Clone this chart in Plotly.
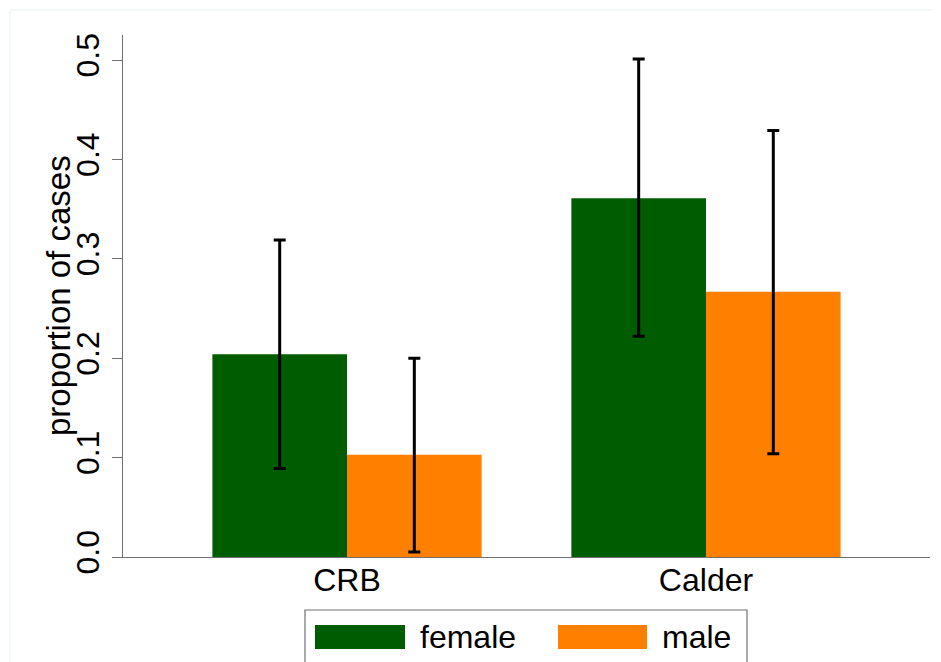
import plotly.graph_objects as go

# ---- data ----
categories = ["CRB", "Calder"]
series_names = ["female", "male"]
female_vals = [0.204, 0.361]
female_upper = [0.319, 0.501]
female_lower = [0.089, 0.222]
male_vals = [0.103, 0.267]
male_upper = [0.200, 0.429]
male_lower = [0.005, 0.104]
y_ticks = [0.0, 0.1, 0.2, 0.3, 0.4, 0.5]
y_title = "proportion of cases"

colors = ["#005c00", "#ff8000"]
FONT = "Arial, Liberation Sans, sans-serif"

def err(vals, up, lo):
    return dict(type="data", symmetric=False,
                array=[u - v for u, v in zip(up, vals)],
                arrayminus=[v - l for v, l in zip(vals, lo)],
                color="black", thickness=3, width=6)

fig = go.Figure()
fig.add_trace(go.Bar(x=categories, y=female_vals, name=series_names[0],
                     marker=dict(color=colors[0], line=dict(width=0)),
                     error_y=err(female_vals, female_upper, female_lower)))
fig.add_trace(go.Bar(x=categories, y=male_vals, name=series_names[1],
                     marker=dict(color=colors[1], line=dict(width=0)),
                     error_y=err(male_vals, male_upper, male_lower)))

# page offset (default body margin) is 8px
OFF = 8
W, H = 941 - OFF, 662 - OFF
L, R, T, B = 123 - OFF, 11, 35 - OFF, 105
pw, ph = W - L - R, H - T - B

def px(x):
    return (x - OFF - L) / pw

def py(y):
    return (H - B - (y - OFF)) / ph

shapes = []
annotations = []
# faint outer frame
shapes.append(dict(type="rect", xref="paper", yref="paper",
                   x0=px(10), x1=px(950), y0=py(680), y1=py(10),
                   line=dict(color="#e6f0f0", width=1), layer="below"))
# legend box
shapes.append(dict(type="rect", xref="paper", yref="paper",
                   x0=px(305), x1=px(747), y0=py(680), y1=py(610),
                   line=dict(color="#707070", width=1.2)))
sw_x = [(315, 405), (558, 647)]
txt_x = [418, 660]
for i, name in enumerate(series_names):
    shapes.append(dict(type="rect", xref="paper", yref="paper",
                       x0=px(sw_x[i][0]), x1=px(sw_x[i][1]),
                       y0=py(649), y1=py(625),
                       fillcolor=colors[i], line=dict(width=0)))
    annotations.append(dict(text=name, xref="paper", yref="paper",
                            x=px(txt_x[i]), y=py(637), xanchor="left",
                            yanchor="middle", showarrow=False,
                            font=dict(family=FONT, size=32, color="black")))
# y-axis title
annotations.append(dict(text=y_title, xref="paper", yref="paper",
                        x=px(58), y=py(296), xanchor="center", yanchor="middle",
                        textangle=-90, showarrow=False,
                        font=dict(family=FONT, size=33, color="black")))

fig.update_layout(
    width=W, height=H,
    margin=dict(l=L, r=R, t=T, b=B, pad=0),
    paper_bgcolor="white", plot_bgcolor="white",
    barmode="group", bargap=0.25, bargroupgap=0,
    showlegend=False,
    font=dict(family=FONT, color="black"),
    shapes=shapes, annotations=annotations,
)
fig.update_xaxes(range=[-0.624, 1.624], showline=True, linecolor="#707070",
                 linewidth=1.2, ticks="", showgrid=False, zeroline=False,
                 ticklabelstandoff=-6,
                 tickfont=dict(size=32, family=FONT, color="black"))
fig.update_yaxes(range=[0, 0.5252], tickvals=y_ticks, tickformat=".1f",
                 showline=True, linecolor="#707070", linewidth=1.2,
                 ticks="outside", ticklen=10, tickcolor="#707070", tickwidth=1.2,
                 tickangle=-90, showgrid=False, zeroline=False,
                 tickfont=dict(size=32, family=FONT, color="black"))

fig.write_html("out.html")
